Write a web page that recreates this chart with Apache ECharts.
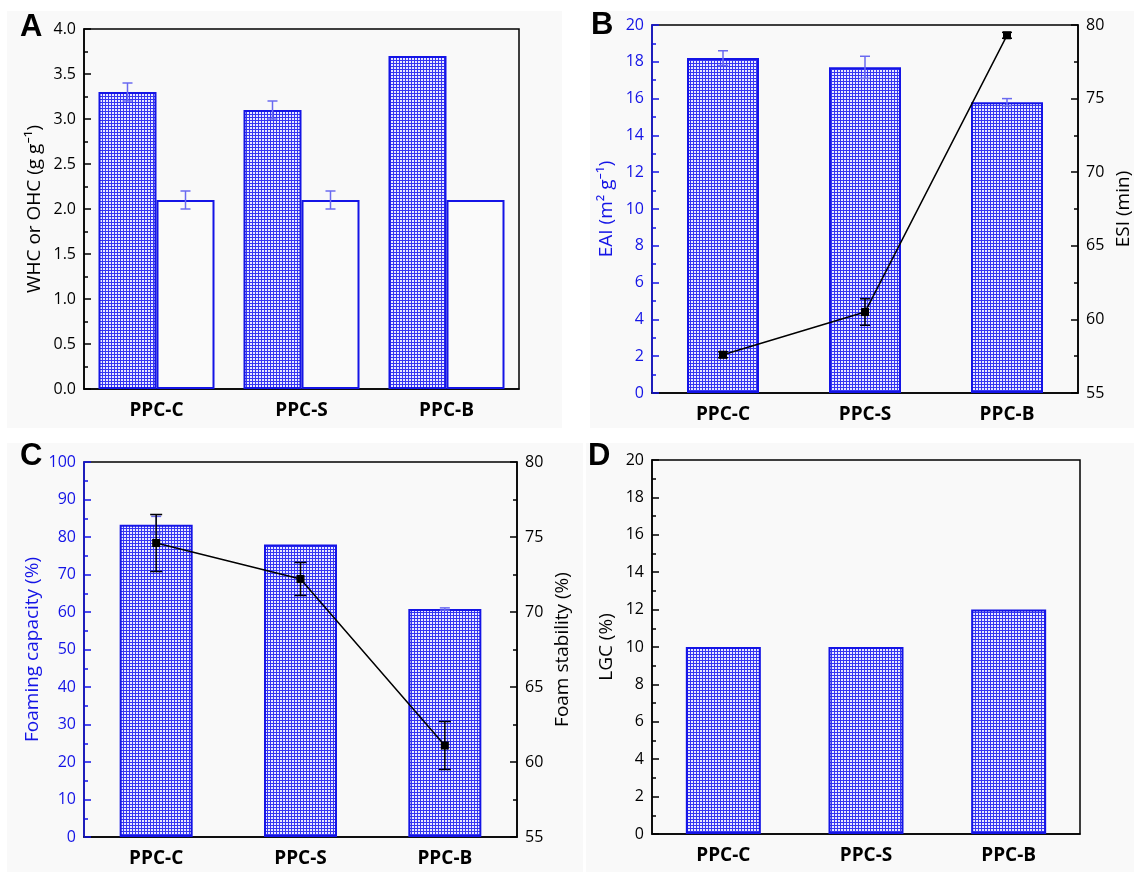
<!DOCTYPE html>
<html>
<head>
<meta charset="utf-8">
<script src="https://cdn.jsdelivr.net/npm/echarts@6.0.0/dist/echarts.min.js"></script>
<style>
html, body { margin: 0; padding: 0; background: #fff; }
#chart { width: 1134px; height: 872px; }
</style>
</head>
<body>
<div id="chart"></div>
<script>
const categories = ['PPC-C', 'PPC-S', 'PPC-B']

// panel A
const whc = [3.3, 3.1, 3.7]
const whcErr = [0.1, 0.1, 0]
const ohc = [2.1, 2.1, 2.1]
const ohcErr = [0.1, 0.1, 0]
// panel B
const eai = [18.2, 17.7, 15.8]
const eaiErr = [0.4, 0.6, 0.2]
const esi = [57.6, 60.5, 79.3]
const esiErr = [0.2, 0.9, 0.2]
// panel C
const foamCap = [83.3, 78.0, 60.8]
const foamCapErr = [2.2, 0, 0.3]
const foamStab = [74.6, 72.2, 61.1]
const foamStabErr = [1.9, 1.1, 1.6]
// panel D
const lgc = [10, 10, 12]

const BLUE = '#1414e6'
const LABEL_FONT = '"Open Sans", "Noto Sans", sans-serif'

function hatch() {
  const c = document.createElement('canvas')
  c.width = 3
  c.height = 3
  const ctx = c.getContext('2d')
  ctx.fillStyle = '#e8e8ff'
  ctx.fillRect(0, 0, 3, 3)
  ctx.fillStyle = '#3535f2'
  ctx.fillRect(0, 0, 3, 1)
  ctx.fillRect(0, 0, 1, 3)
  return c
}
const hatchFill = { image: hatch(), repeat: 'repeat' }

function xAxisCfg(gridIndex) {
  return {
    type: 'category',
    gridIndex: gridIndex,
    data: categories,
    axisLine: { lineStyle: { color: '#000', width: 1.5 } },
    axisTick: { show: false },
    axisLabel: { color: '#000', fontSize: 19, fontWeight: 'bold', fontFamily: LABEL_FONT, margin: 12 }
  }
}

function yAxisCfg(gridIndex, pos, min, max, interval, color, name, nameGap, digits) {
  return {
    type: 'value',
    gridIndex: gridIndex,
    position: pos,
    min: min,
    max: max,
    interval: interval,
    name: name,
    nameLocation: 'middle',
    nameRotate: 90,
    nameGap: nameGap,
    nameTextStyle: { color: color, fontSize: 19, fontFamily: LABEL_FONT },
    axisLine: { show: true, lineStyle: { color: color, width: 1.5 } },
    axisTick: { show: true, inside: true, length: 7, lineStyle: { color: color, width: 1.5 } },
    minorTick: { show: true, splitNumber: 2, length: 4, lineStyle: { color: color, width: 1.5 } },
    splitLine: { show: false },
    axisLabel: {
      color: color,
      fontSize: 16,
      fontFamily: LABEL_FONT,
      margin: 8,
      formatter: function(v) { return v.toFixed(digits) }
    }
  }
}

function barSeries(xi, yi, data, width, fill) {
  return {
    type: 'bar',
    xAxisIndex: xi,
    yAxisIndex: yi,
    data: data,
    barWidth: width,
    barGap: '0%',
    itemStyle: { color: fill, borderColor: BLUE, borderWidth: 2 },
    z: 2
  }
}

function errSeries(xi, yi, vals, errs, color, offset, cap) {
  return {
    type: 'custom',
    xAxisIndex: xi,
    yAxisIndex: yi,
    data: vals.map(function(v, i) { return [i, v, errs[i]] }),
    encode: { x: 0, y: 1 },
    z: 5,
    renderItem: function(params, api) {
      const e = api.value(2)
      if (!e) return null
      const i = api.value(0)
      const v = api.value(1)
      const hi = api.coord([i, v + e])
      const lo = api.coord([i, v - e])
      const cx = hi[0] + offset
      const st = { stroke: color, lineWidth: 1.5 }
      return {
        type: 'group',
        children: [
          { type: 'line', shape: { x1: cx, y1: hi[1], x2: cx, y2: lo[1] }, style: st },
          { type: 'line', shape: { x1: cx - cap / 2, y1: hi[1], x2: cx + cap / 2, y2: hi[1] }, style: st },
          { type: 'line', shape: { x1: cx - cap / 2, y1: lo[1], x2: cx + cap / 2, y2: lo[1] }, style: st }
        ]
      }
    }
  }
}

function lineSeries(xi, yi, data) {
  return {
    type: 'line',
    xAxisIndex: xi,
    yAxisIndex: yi,
    data: data,
    symbol: 'rect',
    symbolSize: 8,
    lineStyle: { color: '#000', width: 1.5 },
    itemStyle: { color: '#000' },
    z: 4
  }
}

function panelLetter(text, x, y) {
  return {
    type: 'text',
    left: x,
    top: y,
    style: { text: text, fontSize: 31, fontWeight: 'bold', fontFamily: '"Liberation Sans", Arial, sans-serif', fill: '#000' }
  }
}

const gridBox = { show: true, borderColor: '#000', borderWidth: 1.5, backgroundColor: 'transparent' }

const chart = echarts.init(document.getElementById('chart'))
chart.setOption({
  animation: false,
  backgroundColor: '#fff',
  graphic: [
    { type: 'rect', shape: { x: 7, y: 11, width: 555, height: 417 }, style: { fill: '#f9f9f9' }, z: -10 },
    { type: 'rect', shape: { x: 590, y: 11, width: 544, height: 417 }, style: { fill: '#f9f9f9' }, z: -10 },
    { type: 'rect', shape: { x: 7, y: 443, width: 576, height: 429 }, style: { fill: '#f9f9f9' }, z: -10 },
    { type: 'rect', shape: { x: 586, y: 443, width: 548, height: 429 }, style: { fill: '#f9f9f9' }, z: -10 },
    panelLetter('A', 20, 12),
    panelLetter('B', 591, 10),
    panelLetter('C', 20, 441),
    panelLetter('D', 588, 441)
  ],
  grid: [
    Object.assign({ left: 84, top: 29, width: 435, height: 360 }, gridBox),
    Object.assign({ left: 652, top: 25, width: 428, height: 368 }, gridBox),
    Object.assign({ left: 84, top: 462, width: 433, height: 375 }, gridBox),
    Object.assign({ left: 652, top: 460, width: 428, height: 374 }, gridBox)
  ],
  xAxis: [xAxisCfg(0), xAxisCfg(1), xAxisCfg(2), xAxisCfg(3)],
  yAxis: [
    yAxisCfg(0, 'left', 0, 4, 0.5, '#000', 'WHC or OHC (g g\u207B\u00B9)', 40, 1),
    yAxisCfg(1, 'left', 0, 20, 2, BLUE, 'EAI (m\u00B2 g\u207B\u00B9)', 36, 0),
    yAxisCfg(1, 'right', 55, 80, 5, '#000', 'ESI (min)', 36, 0),
    yAxisCfg(2, 'left', 0, 100, 10, BLUE, 'Foaming capacity (%)', 42, 0),
    yAxisCfg(2, 'right', 55, 80, 5, '#000', 'Foam stability (%)', 36, 0),
    yAxisCfg(3, 'left', 0, 20, 2, '#000', 'LGC (%)', 36, 0)
  ],
  series: [
    barSeries(0, 0, whc, 58, hatchFill),
    barSeries(0, 0, ohc, 58, '#fafafa'),
    errSeries(0, 0, whc, whcErr, '#6a6af0', -29, 10),
    errSeries(0, 0, ohc, ohcErr, '#6a6af0', 29, 10),

    barSeries(1, 1, eai, 72, hatchFill),
    errSeries(1, 1, eai, eaiErr, '#6a6af0', 0, 10),
    lineSeries(1, 2, esi),
    errSeries(1, 2, esi, esiErr, '#000', 0, 10),

    barSeries(2, 3, foamCap, 73, hatchFill),
    errSeries(2, 3, foamCap, foamCapErr, '#6a6af0', 0, 10),
    lineSeries(2, 4, foamStab),
    errSeries(2, 4, foamStab, foamStabErr, '#000', 0, 12),

    barSeries(3, 5, lgc, 75, hatchFill)
  ]
})
</script>
</body>
</html>
